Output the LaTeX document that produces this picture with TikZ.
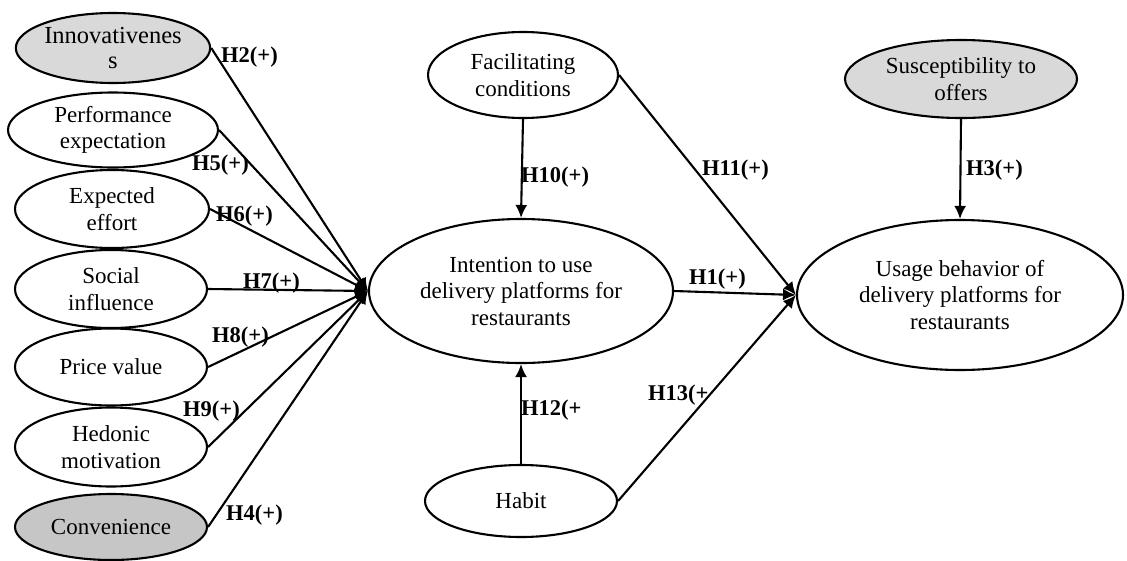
\documentclass[tikz,border=0pt]{standalone}
\usepackage{fontspec}
\setmainfont{Liberation Serif}
\usetikzlibrary{shapes.geometric,arrows.meta}

\begin{document}
\begin{tikzpicture}[yscale=-1
  ,cstyle0/.style={ellipse,draw=black,line width=2.1pt,inner sep=0pt,align=center,font=\fontsize{23}{26.5}\selectfont}
  ,cstyle1/.style={cstyle0,fill=gray!30}
  ,cstyle2/.style={cstyle0,fill=gray!45}
  ,pstyle1/.style={color=black,line width=2.1pt,-{Latex[length=13pt,width=12pt]}}
  ,hstyle/.style={right,inner sep=0pt,font=\fontsize{22.5}{26}\selectfont\bfseries}
]
\useasboundingbox (0pt,0pt) rectangle (1127pt,560pt);

% --- Constructs on the left ---
\node[cstyle1,minimum width=194pt,minimum height=70pt,font=\fontsize{24.5}{25}\selectfont] (innov) at (113pt,48pt) {Innovativenes\\s};
\node[cstyle0,minimum width=210pt,minimum height=75pt] (perf) at (113pt,130pt) {Performance\\expectation};
\node[cstyle0,minimum width=194pt,minimum height=78pt] (effort) at (112pt,209pt) {Expected\\effort};
\node[cstyle0,minimum width=192pt,minimum height=78pt] (social) at (111pt,289pt) {Social\\influence};
\node[cstyle0,minimum width=192pt,minimum height=77pt] (price) at (111pt,367pt) {Price value};
\node[cstyle0,minimum width=192pt,minimum height=79pt] (hedon) at (111pt,447pt) {Hedonic\\motivation};
\node[cstyle2,minimum width=192pt,minimum height=66pt] (conv) at (111pt,527pt) {Convenience};

% --- Middle and right constructs ---
\node[cstyle0,minimum width=190pt,minimum height=86pt] (facil) at (523pt,75pt) {Facilitating\\conditions};
\node[cstyle0,minimum width=304pt,minimum height=144pt] (intent) at (521pt,291pt) {Intention to use\\delivery platforms for\\restaurants};
\node[cstyle0,minimum width=192pt,minimum height=72pt] (habit) at (521pt,501pt) {Habit};
\node[cstyle1,minimum width=232pt,minimum height=78pt] (susc) at (961pt,79pt) {Susceptibility to\\offers};
\node[cstyle0,minimum width=326pt,minimum height=150pt] (usage) at (960pt,295pt) {Usage behavior of\\delivery platforms for\\restaurants};

% --- Paths into intention ---
\draw[pstyle1] (innov.east) -- (intent.west);
\node[hstyle] (h2) at (221pt,57pt) {H2(+)};

\draw[pstyle1] (perf.east) -- (intent.west);
\node[hstyle] (h5) at (192pt,165pt) {H5(+)};

\draw[pstyle1] (effort.east) -- (intent.west);
\node[hstyle] (h6) at (216pt,216pt) {H6(+)};

\draw[pstyle1] (social.east) -- (intent.west);
\node[hstyle] (h7) at (243pt,283pt) {H7(+)};

\draw[pstyle1] (price.east) -- (intent.west);
\node[hstyle] (h8) at (212pt,337pt) {H8(+)};

\draw[pstyle1] (hedon.east) -- (intent.west);
\node[hstyle] (h9) at (183pt,411pt) {H9(+)};

\draw[pstyle1] (conv.east) -- (intent.west);
\node[hstyle] (h4) at (226pt,515pt) {H4(+)};

\draw[pstyle1] (facil.south) -- (intent.north);
\node[hstyle] (h10) at (521pt,177pt) {H10(+)};

\draw[pstyle1] (habit.north) -- (intent.south);
\node[hstyle] (h12) at (521pt,410pt) {H12(+};

% --- Paths into usage ---
\draw[pstyle1] (intent.east) -- (usage.west);
\node[hstyle] (h1) at (689pt,279pt) {H1(+)};

\draw[pstyle1] (facil.east) -- (usage.west);
\node[hstyle] (h11) at (702pt,170pt) {H11(+)};

\draw[pstyle1] (habit.east) -- (usage.west);
\node[hstyle] (h13) at (648pt,395pt) {H13(+};

\draw[pstyle1] (susc.south) -- (usage.north);
\node[hstyle] (h3) at (966pt,170pt) {H3(+)};

\end{tikzpicture}
\end{document}
